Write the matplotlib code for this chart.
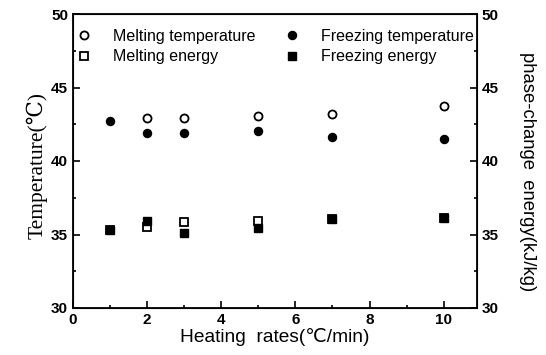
import matplotlib
matplotlib.use("Agg")
import matplotlib.pyplot as plt
from matplotlib.ticker import MultipleLocator

# heating rates (C/min)
rate_melt = [2, 3, 5, 7, 10]
rate_freeze = [1, 2, 3, 5, 7, 10]
rate_melt_e = [1, 2, 3, 5, 7, 10]

melt_temp = [42.94, 42.94, 43.05, 43.2, 43.77]
freeze_temp = [42.73, 41.88, 41.88, 42.04, 41.6, 41.53]
melt_energy = [35.3, 35.52, 35.83, 35.9, 36.08, 36.1]
freeze_energy = [35.3, 35.93, 35.09, 35.47, 36.08, 36.1]

plt.rcParams['font.family'] = ['Liberation Sans', 'DejaVu Sans']

fig = plt.figure(figsize=(5.46, 3.55), dpi=100)
ax = fig.add_axes([73 / 546, 1 - 308 / 355, (477 - 73) / 546, (308 - 14) / 355])

ms = 5.8
ax.plot(rate_melt, melt_temp, 'o', mfc='white', mec='black', mew=1.3, ms=ms,
        label='Melting temperature')
ax.plot(rate_freeze, freeze_temp, 'o', color='black', ms=ms,
        label='Freezing temperature')
ax.plot(rate_melt_e, melt_energy, 's', mfc='white', mec='black', mew=1.3, ms=5.2,
        label='Melting energy')
ax.plot(rate_freeze, freeze_energy, 's', color='black', ms=5.2,
        label='Freezing energy')

ax.set_xlim(0, 10.9)
ax.set_ylim(30, 50)
ax.xaxis.set_major_locator(MultipleLocator(2))
ax.xaxis.set_minor_locator(MultipleLocator(1))
ax.yaxis.set_major_locator(MultipleLocator(5))
ax.yaxis.set_minor_locator(MultipleLocator(2.5))
ax.tick_params(which='both', direction='in', labelsize=11, width=1.2)
ax.tick_params(which='major', length=5)
ax.tick_params(which='minor', length=2.5)
for s in ax.spines.values():
    s.set_linewidth(1.3)

ax2 = ax.twinx()
ax2.set_ylim(30, 50)
ax2.yaxis.set_major_locator(MultipleLocator(5))
ax2.yaxis.set_minor_locator(MultipleLocator(2.5))
ax2.tick_params(which='both', direction='in', labelsize=11, width=1.2)
ax2.tick_params(which='major', length=5)
ax2.tick_params(which='minor', length=2.5)

for lab in ax.get_xticklabels() + ax.get_yticklabels() + ax2.get_yticklabels():
    lab.set_fontweight('bold')

ax.set_xlabel('Heating  rates(\u2103/min)', fontsize=13.8, labelpad=1)
ax.set_ylabel('Temperature(\u2103)', fontsize=15.5,
              family=['Liberation Serif', 'DejaVu Serif'], labelpad=2.5)
ax.yaxis.label.set_y(0.483)
ax2.set_ylabel('phase-change  energy(kJ/kg)', fontsize=13.3, rotation=270,
               labelpad=27)
ax2.yaxis.label.set_y(0.463)

handles, labels = ax.get_legend_handles_labels()
order = [0, 2, 1, 3]
ax.legend([handles[i] for i in order], [labels[i] for i in order], ncol=2,
          loc='upper left', bbox_to_anchor=(-0.027, 0.999), frameon=False,
          fontsize=11.5, handletextpad=1.3, columnspacing=1.77,
          labelspacing=0.35, handlelength=1.0)

fig.savefig('out.png', dpi=100)
